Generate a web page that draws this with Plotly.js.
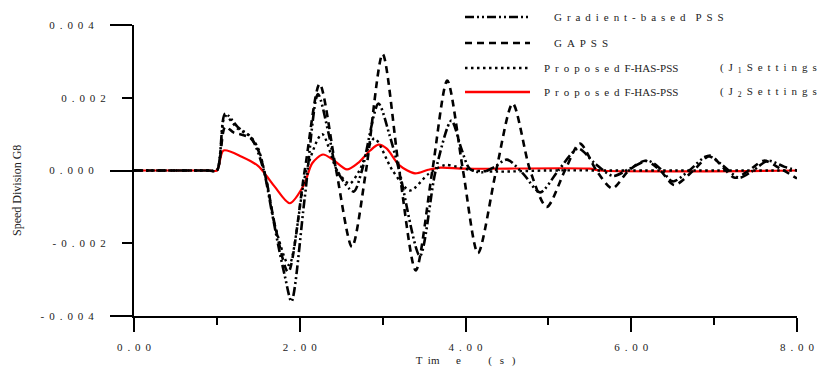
<!DOCTYPE html>
<html>
<head>
<meta charset="utf-8">
<script src="https://cdn.plot.ly/plotly-3.0.1.min.js"></script>
<style>html,body{margin:0;padding:0;background:#fff;}#chart{width:819px;height:371px;}</style>
</head>
<body>
<div id="chart"></div>
<script>
// ---- data ----
const tGrad = [0, 0.9, 1.0, 1.1, 1.25, 1.42, 1.56, 1.66, 1.74, 1.82, 1.9, 2.06, 2.22, 2.35, 2.45, 2.65, 2.75, 2.95, 3.08, 3.2, 3.45, 3.64, 3.83, 3.95, 4.05, 4.2, 4.35, 4.5, 4.7, 4.9, 5.12, 5.36, 5.56, 5.78, 5.98, 6.2, 6.35, 6.5, 6.7, 6.92, 7.1, 7.3, 7.47, 7.65, 7.85, 8.0];
const vGrad = [0, 0, 0, 1.56e-3, 1.2e-3, 0.88e-3, 0.05e-3, -1.1e-3, -2.05e-3, -2.9e-3, -3.6e-3, -0.75e-3, 2.1e-3, 1.0e-3, 0, -0.58e-3, 0, 1.84e-3, 1.0e-3, 0, -2.35e-3, 0, 1.37e-3, 0.6e-3, 0.05e-3, -0.05e-3, 0.1e-3, 0.3e-3, -0.1e-3, -0.6e-3, 0, 0.6e-3, 0.2e-3, -0.15e-3, 0.05e-3, 0.27e-3, 0.05e-3, -0.3e-3, 0, 0.4e-3, 0.15e-3, -0.2e-3, 0, 0.27e-3, 0.1e-3, 0];

const tGa = [0, 0.9, 1.0, 1.1, 1.2, 1.4, 1.5, 1.6, 1.7, 1.86, 2.06, 2.24, 2.44, 2.63, 2.8, 3.0, 3.2, 3.4, 3.6, 3.78, 3.97, 4.15, 4.37, 4.57, 4.78, 4.98, 5.2, 5.38, 5.58, 5.77, 5.97, 6.17, 6.35, 6.52, 6.75, 6.95, 7.1, 7.25, 7.42, 7.6, 7.8, 8.0];
const vGa = [0, 0, 0, 1.2e-3, 1.05e-3, 0.9e-3, 0.55e-3, -0.3e-3, -1.5e-3, -2.8e-3, 0, 2.38e-3, 0, -2.1e-3, 0, 3.2e-3, 0, -2.75e-3, 0, 2.47e-3, 0, -2.27e-3, 0, 1.84e-3, 0, -1.0e-3, 0, 0.74e-3, 0, -0.49e-3, 0, 0.27e-3, 0, -0.4e-3, 0, 0.41e-3, 0.1e-3, -0.2e-3, 0, 0.27e-3, 0.05e-3, -0.22e-3];

const tJ1 = [0, 0.9, 1.0, 1.1, 1.25, 1.4, 1.5, 1.6, 1.7, 1.87, 2.08, 2.27, 2.45, 2.6, 2.72, 2.9, 3.12, 3.33, 3.55, 3.75, 3.9, 4.1, 4.4, 5.0, 6.0, 8.0];
const vJ1 = [0, 0, 0, 1.5e-3, 1.15e-3, 0.95e-3, 0.6e-3, -0.3e-3, -1.5e-3, -2.6e-3, 0, 1.0e-3, 0, -0.36e-3, 0, 0.88e-3, 0, -0.55e-3, -0.1e-3, 0.15e-3, 0.1e-3, 0, -0.03e-3, 0, 0, 0];

const tJ2 = [0, 0.9, 1.0, 1.08, 1.3, 1.5, 1.6, 1.7, 1.88, 2.05, 2.15, 2.28, 2.4, 2.57, 2.7, 2.85, 2.95, 3.05, 3.2, 3.39, 3.55, 3.7, 4.0, 5.5, 5.62, 8.0];
const vJ2 = [0, 0, 0, 0.55e-3, 0.38e-3, 0.12e-3, -0.15e-3, -0.45e-3, -0.9e-3, -0.4e-3, 0.2e-3, 0.44e-3, 0.3e-3, 0.03e-3, 0.2e-3, 0.55e-3, 0.71e-3, 0.6e-3, 0.15e-3, -0.08e-3, 0.02e-3, 0.08e-3, 0.05e-3, 0.05e-3, 0, 0];

const xTickVals = [0, 2, 4, 6, 8];
const xTickLabels = ["0.00", "2.00", "4.00", "6.00", "8.00"];
const xMinorVals = [1, 3, 5, 7];
const yMajorVals = [-0.004, 0, 0.004];
const yMajorLabels = ["-0.004", "0.000", "0.004"];
const yMinorVals = [-0.002, 0.002];
const yMinorLabels = ["-0.002", "0.002"];

const seriesNames = ["Gradient-based PSS", "GAPSS", "Proposed", "Proposed"];
const settingsLabels = ["1", "2"];

// ---- helpers ----
const GAP = "\u00a0\u2009";
function spaced(s) { return s.split("").join(GAP); }

const FONT = "Liberation Serif, Times New Roman, serif";
const TXT = "#222";

const common = {mode: "lines", hoverinfo: "skip", showlegend: false};
const traces = [
  Object.assign({x: tJ2, y: vJ2, line: {color: "#ff0000", width: 2.2, shape: "spline", smoothing: 0.8}}, common),
  Object.assign({x: tGa, y: vGa, line: {color: "#000", width: 2.6, dash: "7px,5px", shape: "spline", smoothing: 0.8}}, common),
  Object.assign({x: tGrad, y: vGrad, line: {color: "#000", width: 2.6, dash: "9px,3px,2px,3px,2px,3px", shape: "spline", smoothing: 0.8}}, common),
  Object.assign({x: tJ1, y: vJ1, line: {color: "#000", width: 2.4, dash: "2.5px,3.5px", shape: "spline", smoothing: 0.8}}, common),
  {x: [], y: [], yaxis: "y2", mode: "lines", showlegend: false, hoverinfo: "skip"}
];

// legend (drawn as paper shapes + annotations)
const L = 134, R = 797, T = 25, B = 316;
const px = v => (v - L) / (R - L);
const py = v => (B - v) / (B - T);
const rowsY = [17, 43, 68, 92];
const styles = [
  {color: "#000", width: 2.6, dash: "9px,3px,2px,3px,2px,3px"},
  {color: "#000", width: 2.6, dash: "7px,5px"},
  {color: "#000", width: 2.4, dash: "2.5px,3.5px"},
  {color: "#ff0000", width: 2.4, dash: "solid"}
];
const shapes = rowsY.map((ry, i) => ({type: "line", xref: "paper", yref: "paper",
  x0: px(465), x1: px(530), y0: py(ry), y1: py(ry), line: styles[i]}));

const annFont = {family: FONT, size: 11, color: TXT};
const annotations = [];
annotations.push({xref: "paper", yref: "paper", x: px(552), y: py(rowsY[0]), xanchor: "left", yanchor: "middle", showarrow: false, font: annFont, text: spaced("Gradient-based") + GAP + GAP + spaced("PSS")});
annotations.push({xref: "paper", yref: "paper", x: px(552), y: py(rowsY[1]), xanchor: "left", yanchor: "middle", showarrow: false, font: annFont, text: spaced(seriesNames[1])});
for (let i = 0; i < 2; i++) {
  annotations.push({xref: "paper", yref: "paper", x: px(542), y: py(rowsY[2 + i]), xanchor: "left", yanchor: "middle", showarrow: false, font: annFont, text: spaced(seriesNames[2 + i]) + GAP + "F-HAS-PSS"});
  annotations.push({xref: "paper", yref: "paper", x: px(718), y: py(rowsY[2 + i]), xanchor: "left", yanchor: "middle", showarrow: false, font: annFont,
    text: "(" + GAP + "J" + GAP + "<sub>" + settingsLabels[i] + "</sub>" + GAP + spaced("Settings") + GAP + ")"});
}
// y-axis title
annotations.push({xref: "paper", yref: "paper", x: px(17), y: py(190), xanchor: "center", yanchor: "middle", showarrow: false, textangle: -90,
  font: {family: FONT, size: 12, color: TXT}, text: "Speed Division G8"});

const layout = {
  width: 819, height: 371,
  margin: {l: L, r: 819 - R, t: T, b: 371 - B, pad: 0},
  paper_bgcolor: "#fff", plot_bgcolor: "#fff",
  font: {family: FONT, size: 11, color: TXT},
  xaxis: {
    range: [0, 8], showgrid: false, zeroline: false, showline: true, linecolor: "#000", linewidth: 2,
    ticks: "outside", ticklen: 14, tickwidth: 2, tickcolor: "#000",
    tickmode: "array", tickvals: xTickVals, ticktext: xTickLabels.map(spaced),
    ticklabelstandoff: 6,
    minor: {tickmode: "array", tickvals: xMinorVals, ticks: "outside", ticklen: 7, tickwidth: 2, tickcolor: "#000", showgrid: false},
    title: {text: "T\u2002im\u2003\u2002e\u2003\u2003\u2002(\u2002\u2009s\u2002\u2009)", font: {family: FONT, size: 11, color: TXT}, standoff: 4}
  },
  yaxis: {
    range: [-0.004, 0.004], showgrid: false, zeroline: false, showline: true, linecolor: "#000", linewidth: 2,
    ticks: "outside", ticklen: 22, tickwidth: 2, tickcolor: "#000",
    tickmode: "array", tickvals: yMajorVals, ticktext: yMajorLabels.map(spaced),
    ticklabelstandoff: 14
  },
  yaxis2: {
    overlaying: "y", side: "left", anchor: "x", range: [-0.004, 0.004], showgrid: false, zeroline: false, showline: false,
    ticks: "outside", ticklen: 11, tickwidth: 2, tickcolor: "#000",
    tickmode: "array", tickvals: yMinorVals, ticktext: yMinorLabels.map(spaced),
    ticklabelstandoff: 14
  },
  shapes: shapes,
  annotations: annotations
};

Plotly.newPlot("chart", traces, layout, {staticPlot: true, displayModeBar: false});
</script>
</body>
</html>
